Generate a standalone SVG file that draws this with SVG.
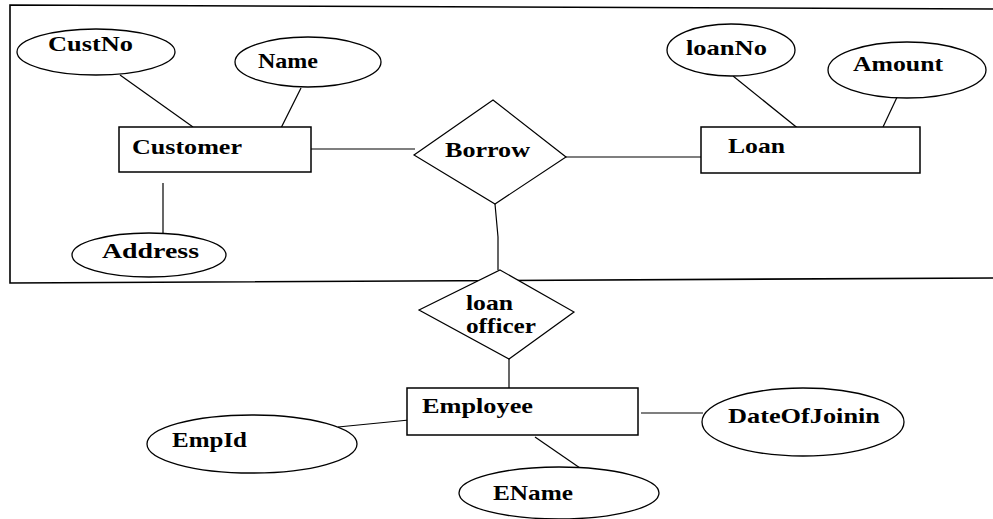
<svg xmlns="http://www.w3.org/2000/svg" width="993" height="519" viewBox="0 0 993 519">
<style>
  .ent { fill: #fff; stroke: #000; stroke-width: 1.5; }
  .rel { fill: #fff; stroke: #000; stroke-width: 1.2; }
  .att { fill: #fff; stroke: #000; stroke-width: 1.3; }
  .ln { stroke: #000; stroke-width: 1.2; fill: none; }
  .frame { stroke: #000; stroke-width: 1.6; fill: none; }
  text { font-family: "Liberation Serif", "Times New Roman", serif; font-weight: bold; font-size: 21px; fill: #000; }
</style>
<rect width="993" height="519" fill="#fff"/>
<polyline class="frame" points="993,9 10,5 10,283 993,278"/>
<g id="connectors">
  <line class="ln" x1="120" y1="75" x2="193" y2="127"/>
  <line class="ln" x1="301" y1="88" x2="281" y2="128"/>
  <line class="ln" x1="163" y1="183" x2="163" y2="233"/>
  <line class="ln" x1="311" y1="149" x2="415" y2="149"/>
  <line class="ln" x1="566" y1="157" x2="701" y2="157"/>
  <line class="ln" x1="733" y1="76" x2="800" y2="130"/>
  <line class="ln" x1="899" y1="93" x2="883" y2="127"/>
  <polyline class="ln" points="495,204 498,237 498,270"/>
  <line class="ln" x1="509" y1="359" x2="509" y2="388"/>
  <line class="ln" x1="338" y1="427" x2="409" y2="420"/>
  <line class="ln" x1="535" y1="437" x2="580" y2="468"/>
  <line class="ln" x1="641" y1="413" x2="703" y2="413"/>
</g>
<g id="custno"><ellipse class="att" cx="96" cy="52" rx="79" ry="23"/><text x="48" y="51" textLength="85" lengthAdjust="spacingAndGlyphs">CustNo</text></g>
<g id="name"><ellipse class="att" cx="308" cy="62" rx="73" ry="25"/><text x="258" y="68" textLength="60" lengthAdjust="spacingAndGlyphs">Name</text></g>
<g id="customer"><rect class="ent" x="119" y="127" width="192" height="45"/><text x="132" y="154" textLength="110" lengthAdjust="spacingAndGlyphs">Customer</text></g>
<g id="address"><ellipse class="att" cx="149" cy="255" rx="77" ry="22"/><text x="102" y="258" textLength="97" lengthAdjust="spacingAndGlyphs">Address</text></g>
<g id="borrow"><polygon class="rel" points="493,100 566,157 495,204 414,155"/><text x="445" y="157" textLength="85" lengthAdjust="spacingAndGlyphs">Borrow</text></g>
<g id="loanno"><ellipse class="att" cx="731" cy="50" rx="64" ry="26"/><text x="686" y="55" textLength="81" lengthAdjust="spacingAndGlyphs">loanNo</text></g>
<g id="amount"><ellipse class="att" cx="907" cy="70" rx="79" ry="28"/><text x="853" y="71" textLength="90" lengthAdjust="spacingAndGlyphs">Amount</text></g>
<g id="loan"><rect class="ent" x="701" y="127" width="219" height="46"/><text x="728" y="153" textLength="57" lengthAdjust="spacingAndGlyphs">Loan</text></g>
<g id="loanofficer"><polygon class="rel" points="500,270 574,312 509,359 419,310"/><text x="466" y="310" textLength="47" lengthAdjust="spacingAndGlyphs">loan</text><text x="466" y="333" textLength="70" lengthAdjust="spacingAndGlyphs">officer</text></g>
<g id="employee"><rect class="ent" x="407" y="388" width="231" height="47"/><text x="422" y="413" textLength="111" lengthAdjust="spacingAndGlyphs">Employee</text></g>
<g id="empid"><ellipse class="att" cx="252" cy="444" rx="105" ry="29"/><text x="172" y="447" textLength="75" lengthAdjust="spacingAndGlyphs">EmpId</text></g>
<g id="ename"><ellipse class="att" cx="559" cy="493" rx="100" ry="26"/><text x="493" y="500" textLength="80" lengthAdjust="spacingAndGlyphs">EName</text></g>
<g id="dateofjoinin"><ellipse class="att" cx="803" cy="422" rx="101" ry="34"/><text x="728" y="423" textLength="152" lengthAdjust="spacingAndGlyphs">DateOfJoinin</text></g>
</svg>
